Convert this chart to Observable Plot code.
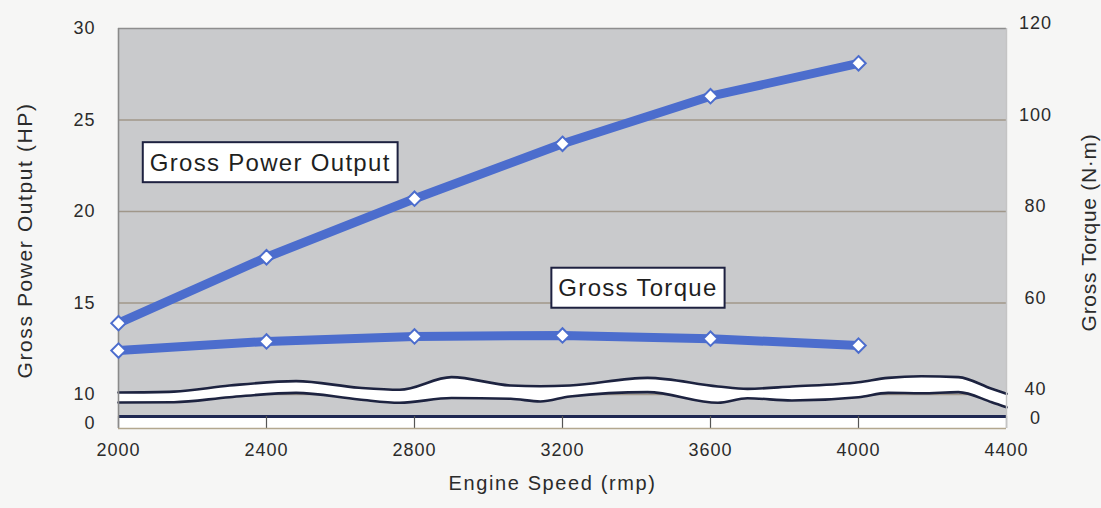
<!DOCTYPE html>
<html>
<head>
<meta charset="utf-8">
<script src="https://cdn.jsdelivr.net/npm/d3@7"></script>
<script src="https://cdn.jsdelivr.net/npm/@observablehq/plot@0.6"></script>
<style>
html, body { margin: 0; padding: 0; background: #f6f6f5; }
#chart svg { display: block; font-family: "Liberation Sans", Arial, sans-serif; }
</style>
</head>
<body>
<div id="chart"></div>
<script>
// ---- data ----
const rpm = [2000, 2400, 2800, 3200, 3600, 4000];
const powerHP = [13.9, 17.5, 20.7, 23.7, 26.3, 28.1];
const torqueNm = [49.6, 51.6, 52.7, 52.9, 52.2, 50.7];

const xTicks = [2000, 2400, 2800, 3200, 3600, 4000, 4400];
const leftTicks = [0, 10, 15, 20, 25, 30];          // HP
const torquePerHP = 4;                               // right axis: N·m = 4 × HP-axis value

// axis-break band (wavy white strip), read along the x axis (HP-axis units)
const breakRpm = [2000, 2150, 2300, 2480, 2650, 2760, 2900, 3060, 3140, 3220, 3430, 3620, 3700, 3820, 4000, 4080, 4170, 4270, 4360, 4400];
const breakTop = [10.11, 10.16, 10.49, 10.73, 10.37, 10.26, 10.95, 10.49, 10.45, 10.49, 10.91, 10.44, 10.31, 10.44, 10.67, 10.91, 11.0, 10.95, 10.31, 10.04];
const breakBottom = [7.24, 7.34, 9.07, 10.09, 8.28, 7.14, 8.79, 8.52, 7.59, 9.31, 10.13, 7.14, 8.72, 7.93, 9.07, 10.09, 10.07, 10.13, 7.34, 5.62];

const labelText = ["Gross Power Output", "Gross Torque"];
const labelRpm = [2410, 3404];
const labelHP = [22.65, 15.79];

const titleX = "Engine Speed (rmp)";
const titleLeft = "Gross Power Output (HP)";
const titleRight = "Gross Torque (N·m)";

// ---- broken axis: the 0–10 segment is compressed ----
const breakAt = 10, squeeze = 0.1585;
const f = v => v >= breakAt ? v : breakAt - (breakAt - v) * squeeze;

// ---- tables built from the arrays ----
const power = rpm.map((r, i) => ({rpm: r, v: f(powerHP[i])}));
const torque = rpm.map((r, i) => ({rpm: r, v: f(torqueNm[i] / torquePerHP)}));
const band = breakRpm.map((r, i) => ({rpm: r, hi: f(breakTop[i]), lo: f(breakBottom[i])}));
const labels = labelText.map((t, i) => ({t, rpm: labelRpm[i], hp: f(labelHP[i])}));
const tickU = leftTicks.map(f);
const tickLabel = (d, fmt) => {
  const i = tickU.findIndex(u => Math.abs(u - d) < 1e-6);
  return i < 0 ? "" : fmt(leftTicks[i]);
};

const xMin = 2000, xMax = 4400, yTop = 30;
const yFloor = f(2.4);     // dark base line
const yStrip = f(-1.72);   // bottom edge of the white tick strip

const blue = "#4c6dcd";
const ink = "#2b2b2b";
const panel = [{x1: xMin, x2: xMax, y1: yFloor, y2: yTop}];
const strip = [{x1: xMin, x2: xMax, y1: yStrip, y2: yFloor}];

const svg = Plot.plot({
  width: 1101,
  height: 508,
  marginLeft: 118,
  marginRight: 95,
  marginTop: 28,
  marginBottom: 80,
  style: {background: "#f6f6f5", color: ink, fontFamily: '"Liberation Sans", Arial, sans-serif'},
  x: {domain: [xMin, xMax]},
  y: {domain: [yStrip, yTop]},
  marks: [
    Plot.rect(strip, {x1: "x1", x2: "x2", y1: "y1", y2: "y2", fill: "#ffffff"}),
    Plot.rect(panel, {x1: "x1", x2: "x2", y1: "y1", y2: "y2", fill: "#c9cacc"}),
    Plot.ruleY(tickU.slice(1, -1), {stroke: "#a0978a", strokeWidth: 1.4}),
    Plot.ruleY([yTop], {stroke: "#8e8e8e", strokeWidth: 1.6}),
    Plot.areaY(band, {x: "rpm", y1: "lo", y2: "hi", fill: "#ffffff", curve: "monotone-x"}),
    Plot.line(band, {x: "rpm", y: "hi", stroke: "#1d2340", strokeWidth: 2.6, curve: "monotone-x"}),
    Plot.line(band, {x: "rpm", y: "lo", stroke: "#1d2340", strokeWidth: 2.6, curve: "monotone-x"}),
    Plot.ruleY([yFloor], {stroke: "#1f2852", strokeWidth: 3}),
    Plot.ruleX(xTicks, {y1: yStrip, y2: yFloor, stroke: "#555", strokeWidth: 1.2}),
    Plot.ruleX([xMin], {y1: yStrip, y2: yTop, stroke: "#8a8a8a", strokeWidth: 1.6}),
    Plot.ruleX([xMax], {y1: yStrip, y2: yTop, stroke: "#c4c4c4", strokeWidth: 1.4}),
    Plot.ruleY([yStrip], {stroke: "#b3a78f", strokeWidth: 1.6}),
    Plot.line(power, {x: "rpm", y: "v", stroke: blue, strokeWidth: 9}),
    Plot.line(torque, {x: "rpm", y: "v", stroke: blue, strokeWidth: 9}),
    Plot.dot(power, {x: "rpm", y: "v", symbol: "diamond2", r: 6.5, fill: "white", stroke: blue, strokeWidth: 2}),
    Plot.dot(torque, {x: "rpm", y: "v", symbol: "diamond2", r: 6.5, fill: "white", stroke: blue, strokeWidth: 2}),
    Plot.text(labels, {x: "rpm", y: "hp", text: "t", fontSize: 24, fill: "#1f1f1f"}),
    Plot.axisX({ticks: xTicks, tickSize: 0, tickPadding: 15, tickFormat: d => String(d), fontSize: 18, label: null}),
    Plot.axisY({anchor: "left", ticks: tickU, tickSize: 0, tickPadding: 23, tickFormat: d => tickLabel(d, String), fontSize: 18, label: null}),
    Plot.axisY({anchor: "right", ticks: tickU, tickSize: 0, tickPadding: 29, textAnchor: "middle", dy: -5, tickFormat: d => tickLabel(d, v => String(v * torquePerHP)), fontSize: 18, label: null}),
    Plot.text([titleX], {text: d => d, frameAnchor: "bottom", textAnchor: "middle", dx: -10, dy: 61, fontSize: 20, fill: ink}),
    Plot.text([titleLeft], {text: d => d, frameAnchor: "left", textAnchor: "middle", rotate: -90, dx: -93, dy: 12, fontSize: 21, fill: ink}),
    Plot.text([titleRight], {text: d => d, frameAnchor: "right", textAnchor: "middle", rotate: -90, dx: 83, dy: 4, fontSize: 21, fill: ink})
  ]
});

document.getElementById("chart").append(svg);

// letter spacing of the scanned type, and boxes behind the series labels
svg.querySelectorAll("text").forEach(t => {
  const s = t.textContent;
  if (labelText.includes(s)) t.style.letterSpacing = "1.3px";
  else if (s === titleRight) t.style.letterSpacing = "0.7px";
  else if (s === titleX || s === titleLeft) t.style.letterSpacing = "1.6px";
  else t.style.letterSpacing = "1px";
});
svg.querySelectorAll("text").forEach(t => {
  if (!labelText.includes(t.textContent)) return;
  const b = t.getBBox();
  const r = document.createElementNS("http://www.w3.org/2000/svg", "rect");
  r.setAttribute("x", b.x - 7);
  r.setAttribute("y", b.y - 6.5);
  r.setAttribute("width", b.width + 14);
  r.setAttribute("height", b.height + 13);
  r.setAttribute("fill", "#ffffff");
  r.setAttribute("stroke", "#1e2140");
  r.setAttribute("stroke-width", "2");
  const tr = t.getAttribute("transform");
  if (tr) r.setAttribute("transform", tr);
  t.parentNode.insertBefore(r, t);
});
</script>
</body>
</html>
